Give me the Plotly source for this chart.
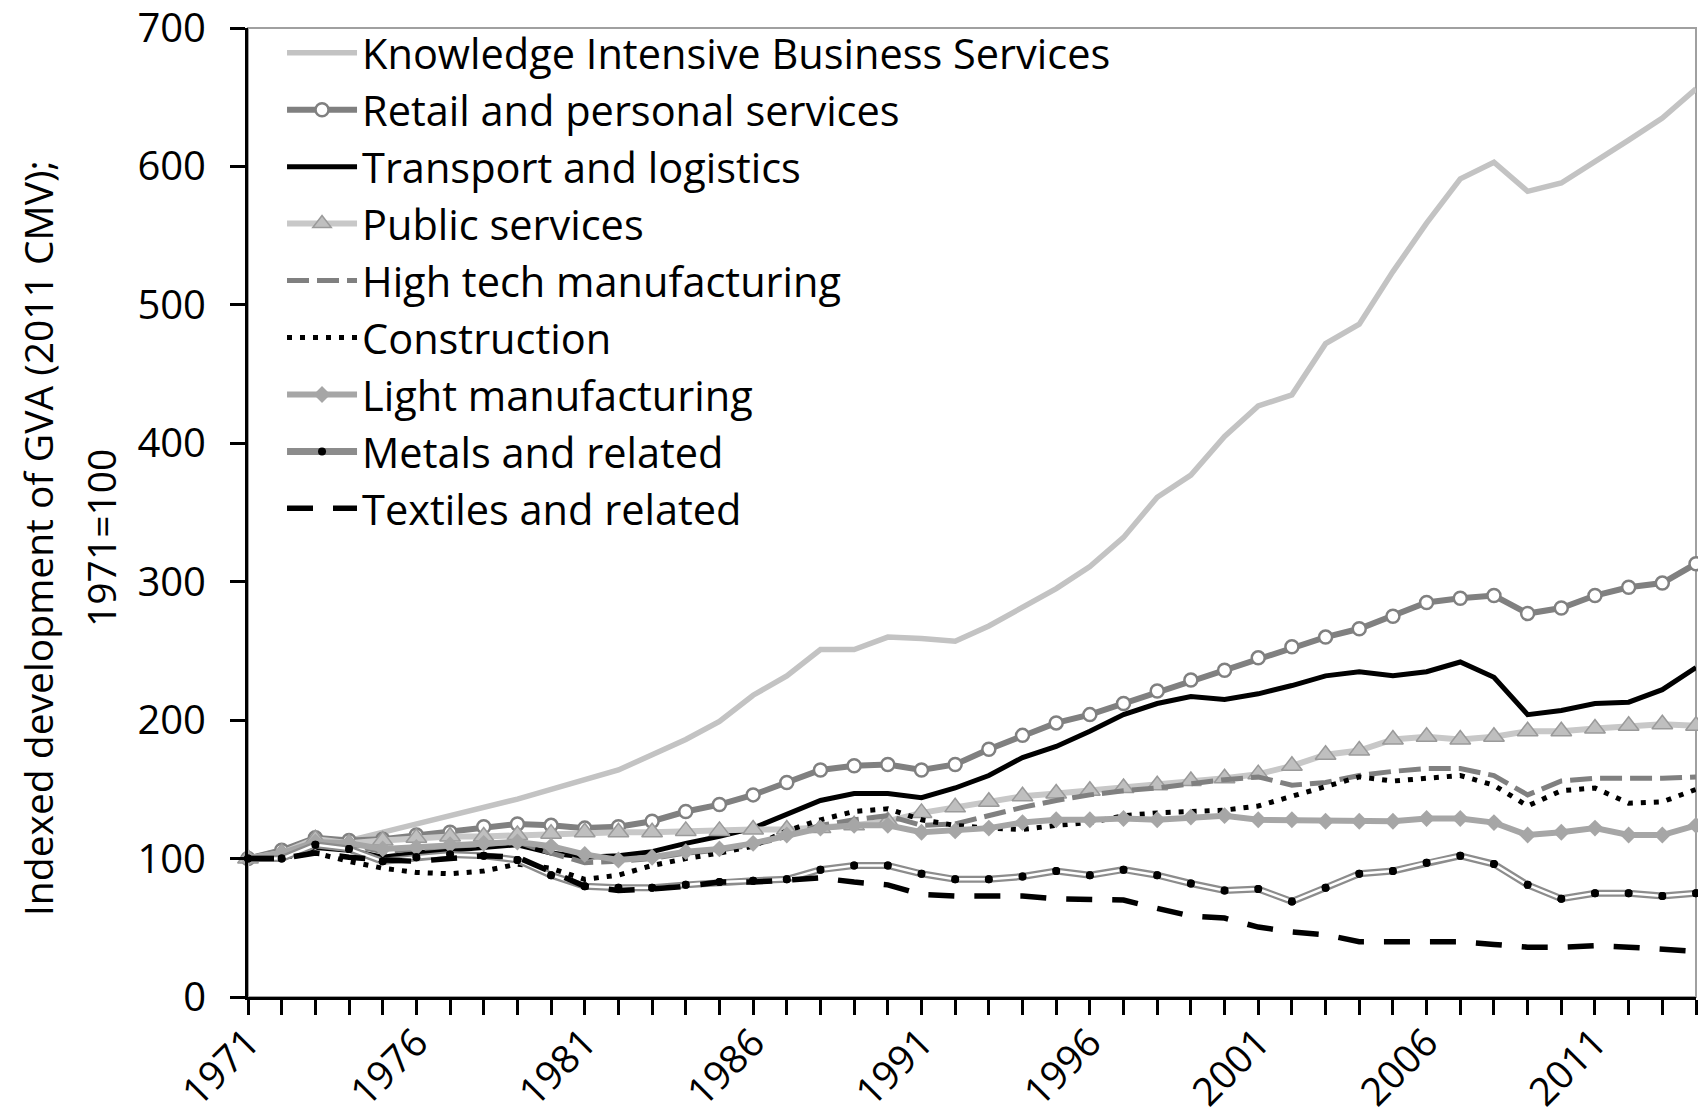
import plotly.graph_objects as go

years = list(range(1971, 2015))

kibs = [100, 106, 112, 113, 119, 124, 130, 137, 143, 150,
        157, 164, 175, 186, 199, 218, 232, 251, 251, 260,
        259, 257, 268, 282, 295, 311, 332, 361, 377, 405,
        427, 435, 472, 486, 524, 559, 591, 603, 582, 588,
        603, 619, 635, 656]
retail = [100, 106, 115, 113, 114, 117, 119, 123, 125, 124,
          122, 123, 127, 134, 139, 146, 155, 164, 167, 168,
          164, 168, 179, 189, 198, 204, 212, 221, 229, 236,
          245, 253, 260, 266, 275, 285, 288, 290, 277, 281,
          290, 296, 299, 313]
transport = [100, 101, 108, 106, 101, 104, 106, 108, 110, 104,
             101, 102, 105, 111, 116, 122, 132, 142, 147, 147,
             144, 151, 160, 173, 181, 192, 204, 212, 217, 215,
             219, 225, 232, 235, 232, 235, 242, 231, 204, 207,
             212, 213, 222, 238]
public = [100, 104, 114, 111, 113, 115, 116, 116, 117, 118,
          119, 119, 119, 120, 120, 121, 121, 122, 124, 127,
          133, 137, 141, 145, 147, 149, 151, 153, 156, 158,
          161, 167, 175, 178, 186, 188, 186, 188, 192, 192,
          194, 196, 197, 196]
hightech = [100, 103, 112, 110, 105, 107, 109, 110, 112, 104,
            97, 98, 100, 104, 106, 110, 116, 124, 128, 131,
            124, 125, 131, 137, 142, 146, 149, 151, 154, 157,
            159, 153, 155, 160, 163, 165, 165, 160, 146, 156,
            158, 158, 158, 159]
construction = [100, 101, 104, 98, 93, 90, 89, 91, 96, 93,
                85, 88, 95, 100, 104, 109, 120, 128, 134, 136,
                128, 124, 122, 121, 124, 126, 131, 133, 134, 135,
                138, 145, 152, 159, 156, 158, 160, 153, 138, 149,
                151, 140, 141, 150]
light = [100, 104, 112, 111, 107, 108, 110, 111, 112, 109,
         103, 99, 101, 105, 107, 111, 117, 122, 124, 124,
         119, 120, 122, 126, 128, 128, 129, 128, 130, 131,
         128, 128, 127, 127, 127, 129, 129, 126, 117, 119,
         122, 117, 117, 124]
metals = [100, 100, 110, 107, 98, 101, 103, 102, 99, 88,
          80, 79, 79, 81, 83, 84, 85, 92, 95, 95,
          89, 85, 85, 87, 91, 88, 92, 88, 82, 77,
          78, 69, 79, 89, 91, 97, 102, 96, 81, 71,
          75, 75, 73, 75]
textiles = [100, 100, 104, 101, 99, 98, 100, 102, 101, 90,
            80, 77, 78, 80, 83, 83, 85, 86, 83, 81,
            74, 73, 73, 73, 71, 70.5, 70, 64, 58.5, 57,
            50.5, 47, 45, 40, 40, 40, 40, 38, 36, 36,
            37, 36, 34.5, 33]

FONT = "Open Sans"

fig = go.Figure()

fig.add_trace(go.Scatter(x=years, y=kibs, mode="lines", name="Knowledge Intensive Business Services",
                         line=dict(color="#c3c3c3", width=5.5)))
fig.add_trace(go.Scatter(x=years, y=retail, mode="lines+markers", name="Retail and personal services",
                         line=dict(color="#808080", width=6),
                         marker=dict(symbol="circle", size=13, color="white",
                                     line=dict(color="#808080", width=2.5))))
fig.add_trace(go.Scatter(x=years, y=transport, mode="lines", name="Transport and logistics",
                         line=dict(color="black", width=5)))
fig.add_trace(go.Scatter(x=years, y=public, mode="lines+markers", name="Public services",
                         line=dict(color="#c8c8c8", width=6),
                         marker=dict(symbol="triangle-up", size=18, color="#bfbfbf",
                                     line=dict(color="#9a9a9a", width=1.5))))
fig.add_trace(go.Scatter(x=years, y=hightech, mode="lines", name="High tech manufacturing",
                         line=dict(color="#808080", width=5, dash="22px,8px")))
fig.add_trace(go.Scatter(x=years, y=construction, mode="lines", name="Construction",
                         line=dict(color="black", width=5, dash="5px,8px")))
fig.add_trace(go.Scatter(x=years, y=light, mode="lines+markers", name="Light manufacturing",
                         line=dict(color="#a6a6a6", width=6),
                         marker=dict(symbol="diamond", size=13, color="#a6a6a6")))
# metals: gray double line with a white core and black dots
fig.add_trace(go.Scatter(x=years, y=metals, mode="lines+markers", name="Metals and related",
                         line=dict(color="#8c8c8c", width=7),
                         marker=dict(symbol="circle", size=8, color="black")))
fig.add_trace(go.Scatter(x=years, y=metals, mode="lines", showlegend=False, hoverinfo="skip",
                         line=dict(color="white", width=2.5)))
fig.add_trace(go.Scatter(x=years, y=metals, mode="markers", showlegend=False, hoverinfo="skip",
                         marker=dict(symbol="circle", size=8, color="black")))
fig.add_trace(go.Scatter(x=years, y=textiles, mode="lines", name="Textiles and related",
                         line=dict(color="black", width=5.5, dash="26px,20px")))

fig.update_traces(cliponaxis=False)

# gray plot-area frame (top and right edges)
fig.add_shape(type="rect", xref="paper", yref="paper", x0=0, x1=1, y0=0, y1=1,
              line=dict(color="#a0a0a0", width=2), layer="below")

fig.add_annotation(text="Indexed development of GVA (2011 CMV);", xref="paper", yref="paper",
                   x=-0.1450, y=0.4737, xanchor="center", yanchor="middle",
                   textangle=-90, showarrow=False,
                   font=dict(family=FONT, size=39, color="black"))
fig.add_annotation(text="1971=100", xref="paper", yref="paper",
                   x=-0.1015, y=0.4737, xanchor="center", yanchor="middle",
                   textangle=-90, showarrow=False,
                   font=dict(family=FONT, size=39, color="black"))

fig.update_xaxes(range=[1971, 2014], tickmode="linear", tick0=1971, dtick=5,
                 ticks="outside", ticklen=15, tickwidth=3, tickcolor="black",
                 minor=dict(dtick=1, ticks="outside", ticklen=15, tickwidth=3, tickcolor="black"),
                 tickangle=-45, showline=True, linecolor="black", linewidth=3,
                 showgrid=False, zeroline=False, ticklabeloverflow="allow",
                 automargin=False, ticklabelstandoff=-11,
                 tickfont=dict(family=FONT, size=39, color="black"))
fig.update_yaxes(range=[0, 700], tickmode="linear", tick0=0, dtick=100,
                 ticks="outside", ticklen=15, tickwidth=3, tickcolor="black",
                 showline=True, linecolor="black", linewidth=3,
                 showgrid=False, zeroline=False, ticklabelstandoff=16,
                 ticklabeloverflow="allow", automargin=False,
                 tickfont=dict(family=FONT, size=40, color="black"))

fig.update_layout(
    width=1698, height=1116,
    margin=dict(l=248, r=2, t=28, b=119),
    plot_bgcolor="white", paper_bgcolor="white",
    font=dict(family=FONT, color="black"),
    legend=dict(x=0.0235, y=1.009, xanchor="left", yanchor="top",
                bgcolor="rgba(0,0,0,0)", itemwidth=70,
                font=dict(family=FONT, size=41.5, color="black")),
)

fig.write_html("out.html", config={"displayModeBar": False},
               post_script="document.body.style.margin='0';")
